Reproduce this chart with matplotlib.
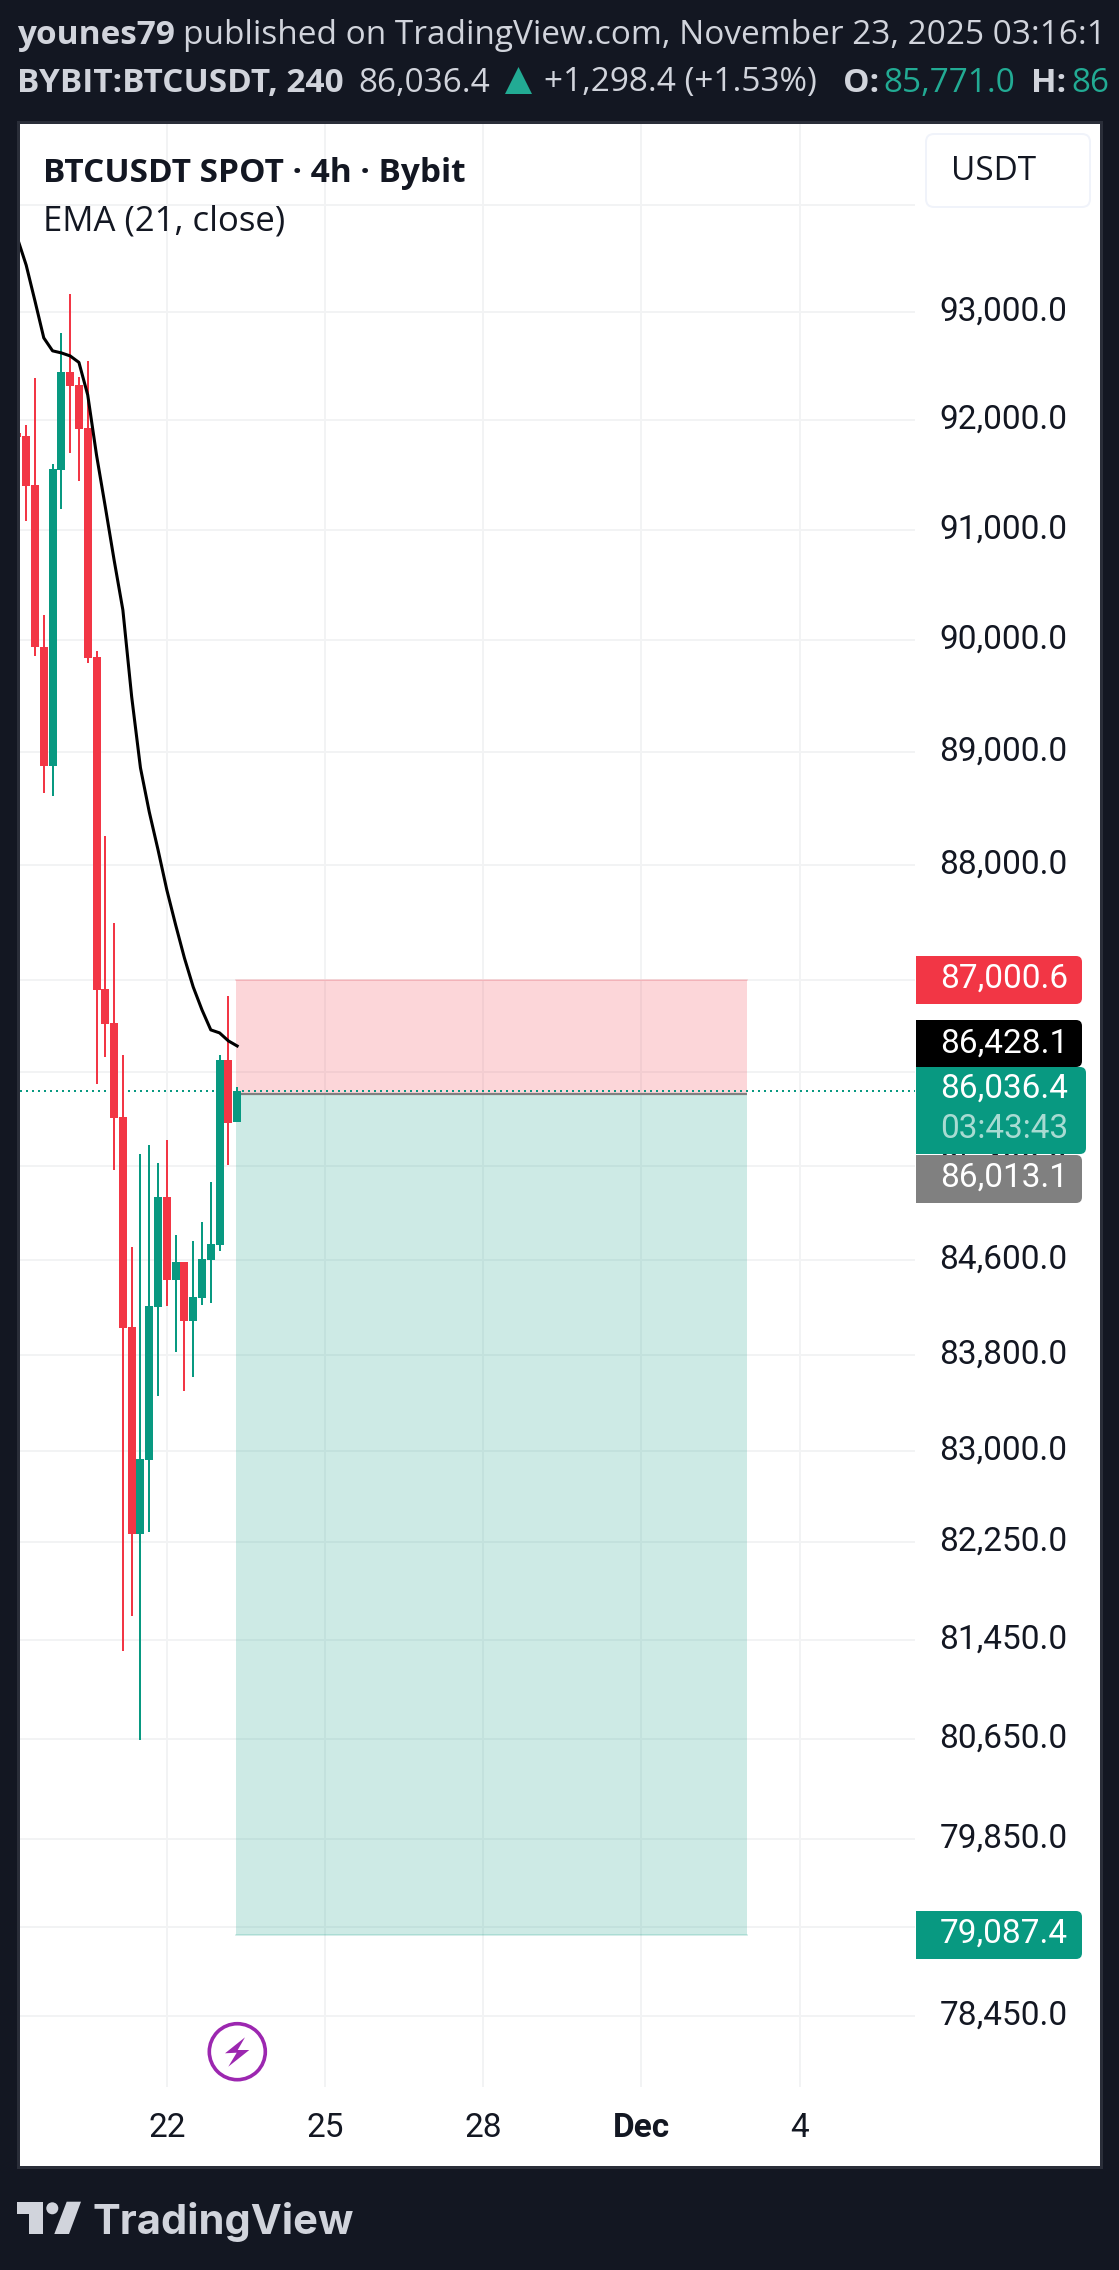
import numpy as np
import matplotlib
matplotlib.use('Agg')
import matplotlib.pyplot as plt
from matplotlib.patches import Rectangle, FancyBboxPatch, Polygon, Circle
from matplotlib.transforms import ScaledTranslation

# candles, 4h, oldest first (index 17 = Nov 22 00:00)
opens = [91884, 91857, 91409, 89941, 88879, 91546, 92446, 92326, 91930, 89852, 86921, 86628, 85818,
         84036, 82319, 82929, 84205, 85134, 84433, 84584, 84087, 84280, 84601, 84727, 86309, 85771]
highs = [91884, 91957, 92391, 90230, 91601, 92806, 93166, 92399, 92547, 89905, 88260, 87497, 86352,
         84711, 85502, 85580, 85424, 85622, 84812, 84584, 84761, 84921, 85259, 86352, 86861, 86075]
lows = [91847, 91080, 89861, 88635, 88614, 91193, 91701, 91445, 89799, 86101, 86334, 85365, 81363,
        81648, 80643, 82335, 83461, 84213, 83828, 83502, 83619, 84222, 84239, 84676, 85407, 85771]
closes = [91847, 91400, 89937, 88879, 91555, 92446, 92316, 91924, 89843, 86913, 86619, 85810, 84028,
          82319, 82937, 84213, 85134, 84433, 84584, 84087, 84289, 84609, 84736, 86309, 85767, 86036.4]
ema21 = [93688, 93436, 93102, 92760, 92640, 92621, 92593, 92533, 92233, 91682, 91208, 90726, 90273,
         89495, 88862, 88472, 88137, 87785, 87480, 87191, 86939, 86740, 86567, 86541, 86472, 86428.1]

price_ticks = [94000, 93000, 92000, 91000, 90000, 89000, 88000, 87000, 86200, 85400, 84600,
               83800, 83000, 82250, 81450, 80650, 79850, 79150, 78450]
time_ticks = [17, 35, 53, 71, 89]
time_labels = ['22', '25', '28', 'Dec', '4']

stop_price = 87000.6
entry_price = 86013.1
target_price = 79087.4
last_price = 86036.4
pos_start, pos_end = 24.9, 83

BG = '#131722'
RED = '#f23645'
GREEN = '#089981'
TXT = '#d1d4dc'
TICKFONT = 'Roboto'
HEADFONT = 'Open Sans'
HS = 24


def px2price(y):
    return 93000 * np.exp(-(y - 312) / 10015)


fig = plt.figure(figsize=(11.19, 22.70), dpi=100, facecolor=BG)

# background layer in pixel coordinates
bg = fig.add_axes([0, 0, 1, 1], zorder=0)
bg.set_xlim(0, 1119)
bg.set_ylim(2270, 0)
bg.axis('off')
bg.add_patch(Rectangle((17, 121), 1086, 2048, fc='#2a2e39', ec='none'))
bg.add_patch(Rectangle((20, 124), 1080, 2042, fc='white', ec='none'))

bg.text(17, 35, 'younes79', color=TXT, fontsize=HS, fontweight='bold', family=HEADFONT, va='center', stretch='condensed')
bg.text(183, 35, 'published on TradingView.com, November 23, 2025 03:16:1', color=TXT, fontsize=HS,
        family=HEADFONT, va='center', clip_on=True)
bg.text(17, 83, 'BYBIT:BTCUSDT, 240', color=TXT, fontsize=HS, fontweight='bold', family=HEADFONT, va='center')
bg.text(358, 83, '86,036.4', color=TXT, fontsize=HS, family=HEADFONT, va='center')
bg.add_patch(Polygon([(505, 94), (532, 94), (518.5, 67)], fc='#22ab94', ec='none'))
bg.text(544, 83, '+1,298.4 (+1.53%)', color=TXT, fontsize=HS, family=HEADFONT, va='center')
bg.text(843, 83, 'O:', color=TXT, fontsize=HS, fontweight='bold', family=HEADFONT, va='center')
bg.text(883, 83, '85,771.0', color='#22ab94', fontsize=HS, family=HEADFONT, va='center')
bg.text(1031, 83, 'H:', color=TXT, fontsize=HS, fontweight='bold', family=HEADFONT, va='center')
high_txt = bg.text(1071, 83, '86', color='#22ab94', fontsize=HS, family=HEADFONT, va='center')
high_txt.set_clip_path(Rectangle((0, 0), 1103, 2270, transform=bg.transData))

# logo
bg.add_patch(Polygon([(16.7, 2201.7), (43.3, 2201.7), (43.3, 2234), (29.3, 2234), (29.3, 2214), (16.7, 2214)],
                     fc=TXT, ec='none'))
bg.add_patch(Circle((52.3, 2208.3), 6, fc=TXT, ec='none'))
bg.add_patch(Polygon([(66.7, 2201.7), (81, 2201.7), (69, 2234), (54.3, 2234)], fc=TXT, ec='none'))
bg.text(93, 2234, 'TradingView', color=TXT, fontsize=30, fontweight='bold', family='Inter', va='baseline')

# chart pane
ax = fig.add_axes([20 / 1119, 1 - 2087 / 2270, 895 / 1119, 1963 / 2270], zorder=1)
ax.patch.set_alpha(0)
ax.set_yscale('log')
ax.set_ylim(px2price(2087), px2price(124))
ax.set_xlim((20 - 17.4) / 8.79, (915 - 17.4) / 8.79)
for s in ax.spines.values():
    s.set_visible(False)

ax.yaxis.tick_right()
ax.set_yticks(price_ticks)
ax.set_yticklabels(['' if p == 94000 else f'{p:,.1f}' for p in price_ticks], family=TICKFONT, fontsize=24,
                   color='#131722')
ax.minorticks_off()
ax.set_xticks(time_ticks)
ax.set_xticklabels(time_labels, family=TICKFONT, fontsize=24, color='#131722')
ax.get_xticklabels()[3].set_fontweight('bold')
ax.tick_params(axis='y', length=0, pad=17.5, which='both')
ax.tick_params(axis='x', length=0, pad=18)
ax.grid(True, color='#f2f3f4', lw=1.44)
ax.set_axisbelow(True)
up4 = ScaledTranslation(0, 4 / 100, fig.dpi_scale_trans)
for lab in ax.get_yticklabels():
    lab.set_transform(lab.get_transform() + up4)

# position tool
ax.fill_between([pos_start, pos_end], entry_price, stop_price, color=RED, alpha=0.2, lw=0, zorder=2)
ax.fill_between([pos_start, pos_end], target_price, entry_price, color=GREEN, alpha=0.2, lw=0, zorder=2)
ax.plot([pos_start, pos_end], [stop_price, stop_price], color=RED, alpha=0.2, lw=1.2, zorder=2.2)
ax.plot([pos_start, pos_end], [target_price, target_price], color=GREEN, alpha=0.2, lw=1.2, zorder=2.2)
ax.plot([pos_start, pos_end], [entry_price, entry_price], color='#808080', lw=1.6, zorder=2.5,
        solid_capstyle='butt')

ax.axhline(last_price, color=GREEN, lw=1.44, ls=(0, (1, 2)), zorder=2.7)

# candles
xs = np.arange(len(opens))
cols = [GREEN if c >= o else RED for o, c in zip(opens, closes)]
ax.vlines(xs, lows, highs, colors=cols, lw=1.44, zorder=3)
bot = [min(o, c) for o, c in zip(opens, closes)]
hgt = [abs(o - c) for o, c in zip(opens, closes)]
ax.bar(xs, hgt, bottom=bot, width=0.91, color=cols, lw=0, zorder=3.5)

ax.plot(xs, ema21, color='black', lw=2.2, zorder=4)

# overlay in pixel coordinates
top = fig.add_axes([0, 0, 1, 1], zorder=2)
top.set_xlim(0, 1119)
top.set_ylim(2270, 0)
top.axis('off')
top.patch.set_alpha(0)


def price_box(y0, y1, right, col):
    top.add_patch(Rectangle((916, y0), 20, y1 - y0, fc=col, ec='none'))
    top.add_patch(FancyBboxPatch((920, y0), right - 920, y1 - y0, boxstyle='round,pad=0,rounding_size=6',
                                 fc=col, ec='none'))


price_box(956, 1004, 1082, RED)
top.text(940, 979, f'{stop_price:,.1f}', color='white', family=TICKFONT, fontsize=24, va='center')
price_box(1020, 1067, 1082, 'black')
top.text(940, 1044, '86,428.1', color='white', family=TICKFONT, fontsize=24, va='center')
price_box(1155, 1203, 1082, '#808080')
top.text(940, 1178, f'{entry_price:,.1f}', color='white', family=TICKFONT, fontsize=24, va='center')
price_box(1067, 1154, 1086, GREEN)
top.text(940, 1089, f'{last_price:,.1f}', color='white', family=TICKFONT, fontsize=24, va='center')
top.text(940, 1129, '03:43:43', color='white', alpha=0.65, family=TICKFONT, fontsize=24, va='center')
price_box(1911, 1959, 1082, GREEN)
top.text(940, 1934, f'{target_price:,.1f}', color='white', family=TICKFONT, fontsize=24, va='center')

top.add_patch(FancyBboxPatch((926, 134), 164, 73, boxstyle='round,pad=0,rounding_size=8', fc='white',
                             ec='#f0f3fa', lw=1.4))
top.text(951, 172, 'USDT', color='#131722', family=HEADFONT, fontsize=24, va='center')

top.text(43, 173, 'BTCUSDT SPOT · 4h · Bybit', color='#131722', family=HEADFONT, fontsize=24,
         fontweight='bold', va='center')
top.text(43, 221, 'EMA (21, close)', color='#131722', family=HEADFONT, fontsize=25, va='center')

# lightning icon
top.add_patch(Circle((237.3, 2051.7), 28, fc='white', ec='#9c27b0', lw=2.6))
top.add_patch(Polygon([(245, 2037.3), (225, 2053.3), (236.7, 2052.7), (228.3, 2066.7), (249.3, 2050),
                       (237.7, 2050)], fc='#9c27b0', ec='none'))

fig.savefig('out.png', dpi=100, facecolor=BG)
